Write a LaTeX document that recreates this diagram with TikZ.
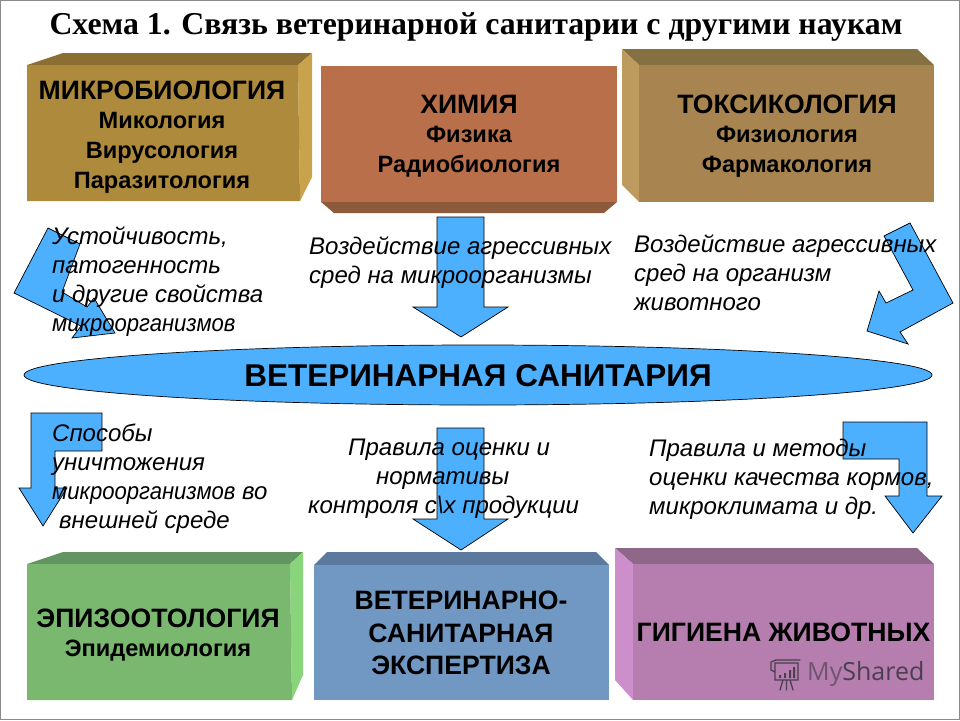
\documentclass[tikz,border=0pt]{standalone}
\usepackage{fontspec}
\usepackage{graphicx}
\setmainfont{Liberation Sans}
\newfontfamily\titlefont{Liberation Serif}
\newfontfamily\wmfont{Open Sans}
\definecolor{arrowblue}{HTML}{4DB0FF}
\definecolor{slideedge}{HTML}{8C8C8C}
\definecolor{ochre}{HTML}{AE8A3C}\definecolor{ochretop}{HTML}{8B6F32}\definecolor{ochreside}{HTML}{C9A24C}
\definecolor{brick}{HTML}{B96F4A}\definecolor{bricktop}{HTML}{8D5A3C}
\definecolor{tanbox}{HTML}{A88550}\definecolor{tantop}{HTML}{847041}\definecolor{tanside}{HTML}{BD9A5E}
\definecolor{grn}{HTML}{7AB86F}\definecolor{grntop}{HTML}{639562}\definecolor{grnside}{HTML}{8AD57C}
\definecolor{steel}{HTML}{7198C3}\definecolor{steeltop}{HTML}{5B7A9D}
\definecolor{mauve}{HTML}{B57EAE}\definecolor{mauvetop}{HTML}{8F6789}\definecolor{mauveside}{HTML}{CC8FCB}
\definecolor{wm}{HTML}{4A3F50}\definecolor{wmlight}{HTML}{6E5470}
\tikzset{
  bigarrow/.style={draw=black,line width=0.7pt,fill=arrowblue,line join=miter},
  boxtext/.style={align=center,font=\bfseries\fontsize{24}{29.7}\selectfont,text=black,inner sep=0pt},
  note/.style={align=left,font=\itshape\fontsize{24}{29}\selectfont,text=black,inner sep=0pt,anchor=north west}
}
\newcommand{\HeadFont}{\fontsize{26.6}{29.7}\selectfont}
\newcommand{\SubFont}{\fontsize{23.6}{29.7}\selectfont}
\newcommand{\NarrowWord}[1]{\scalebox{0.92}[1]{#1}}
\begin{document}
\begin{tikzpicture}[x=1pt,y=-1pt]
\useasboundingbox (0,0) rectangle (960,720);
\fill[white] (0,0) rectangle (960,720);
\draw[slideedge,line width=1.2pt] (0.5,0.5) rectangle (959.3,719.3);
% title
\node[font=\titlefont\bfseries\fontsize{31.8}{36}\selectfont,inner sep=0pt] (title) at (476,27) {Схема 1. Связь ветеринарной санитарии с другими наукам};
% boxes
\fill[ochretop] (27,65)--(63,53)--(312,53)--(298,65)--cycle;
\fill[ochreside] (298,65)--(312,53)--(312,177)--(300,201)--cycle;
\fill[ochre] (27,65)--(298,65)--(300,201)--(27,201)--cycle;
\fill[bricktop] (321,202)--(334,213)--(604,213)--(617,202)--cycle;
\fill[brick] (321,66) rectangle (617,202);
\fill[tantop] (639,65)--(622,49)--(917,49)--(934,65)--cycle;
\fill[tanside] (639,65)--(622,49)--(622,185)--(639,202)--cycle;
\fill[tanbox] (639,65) rectangle (934,202);
\fill[grntop] (27,564)--(63,552)--(303,552)--(290,564)--cycle;
\fill[grnside] (290,564)--(303,552)--(303,675)--(292,700)--cycle;
\fill[grn] (27,564)--(290,564)--(292,700)--(27,700)--cycle;
\fill[steeltop] (314,565)--(327,552)--(596,552)--(609,565)--cycle;
\fill[steel] (314,565) rectangle (609,700);
\fill[mauvetop] (633,564)--(615,548)--(917,548)--(934,564)--cycle;
\fill[mauveside] (633,564)--(615,548)--(615,680)--(633,700)--cycle;
\fill[mauve] (633,564) rectangle (934,700);
% arrows
\draw[bigarrow] (437,217)--(484,217)--(484,307)--(508,307)--(461,337)--(413,307)--(437,307)--cycle;
\draw[bigarrow] (437,428)--(484,428)--(484,519)--(508,519)--(461,550)--(413,519)--(437,519)--cycle;
\draw[bigarrow] (48,228)--(80,244)--(62,292)--(87,307)--(94,298)--(115,333)--(72,338)--(81,326)--(14,293)--cycle;
\draw[bigarrow] (910,223)--(953,303)--(900,332)--(908,344)--(867,331)--(879,291)--(886,303)--(913,290)--(884,236)--cycle;
\draw[bigarrow] (31,413)--(102,413)--(102,451)--(55,451)--(55,488)--(67,488)--(43,526)--(19,488)--(31,488)--cycle;
\draw[bigarrow] (843,422)--(927,422)--(927,496)--(942,496)--(913,533)--(885,496)--(899,496)--(899,459)--(843,459)--cycle;
% central ellipse
\draw[bigarrow] (478,375) ellipse [x radius=454,y radius=30];
\node[font=\bfseries\fontsize{31.5}{34}\selectfont,inner sep=0pt] (centre) at (478,376) {ВЕТЕРИНАРНАЯ САНИТАРИЯ};
% box texts
\node[boxtext] (micro) at (162,137) {\HeadFont МИКРОБИОЛОГИЯ\\\SubFont Микология\\\SubFont Вирусология\\\SubFont Паразитология};
\node[boxtext] (chem) at (469,136) {\HeadFont ХИМИЯ\\\SubFont Физика\\\SubFont Радиобиология};
\node[boxtext] (tox) at (787,136) {\HeadFont ТОКСИКОЛОГИЯ\\\SubFont Физиология\\\SubFont Фармакология};
\node[boxtext] (epi) at (158,635) {\HeadFont ЭПИЗООТОЛОГИЯ\\\SubFont Эпидемиология};
\node[boxtext,font=\bfseries\fontsize{24}{32.5}\selectfont] (vse) at (461,633) {\HeadFont ВЕТЕРИНАРНО-\\\HeadFont САНИТАРНАЯ\\\HeadFont ЭКСПЕРТИЗА};
\node[boxtext] (hyg) at (783.5,632) {\HeadFont ГИГИЕНА ЖИВОТНЫХ};
% notes
\node[note] (n1) at (52,227) {Устойчивость,\\патогенность\\и другие свойства\\\NarrowWord{микроорганизмов}};
\node[note] (n2) at (309,237) {Воздействие агрессивных\\сред на микроорганизмы};
\node[note] (n3) at (634,235) {Воздействие агрессивных\\сред на организм\\животного};
\node[note] (n4) at (52,424) {Способы\\уничтожения\\\NarrowWord{микроорганизмов} во\\\hspace*{7pt}внешней среде};
\node[note] (n5) at (308,439) {\hspace*{40pt}Правила оценки и\\\hspace*{68pt}нормативы\\контроля с\textbackslash х продукции};
\node[note] (n6) at (649,439) {Правила и методы\\оценки качества кормов,\\микроклимата и др.};
% watermark
\node[font=\wmfont\fontsize{25}{28}\selectfont,text=wm,inner sep=0pt,anchor=west] (wmark) at (807,674) {\textcolor{wmlight}{My}Shared};
\draw[wm,line width=1.3pt,line cap=round] (775,663) rectangle (798,680) (775,660)--(800,660) (783,680)--(780,690) (790,680)--(793,690) (786.5,680)--(786.5,690) (776,660) -- (771,662)--(771,670)--(775,672);
\fill[wm] (779,675) rectangle (781,678) (784,673) rectangle (786,678) (789,670) rectangle (791,678) (793,667) rectangle (795,678);
\end{tikzpicture}
\end{document}
